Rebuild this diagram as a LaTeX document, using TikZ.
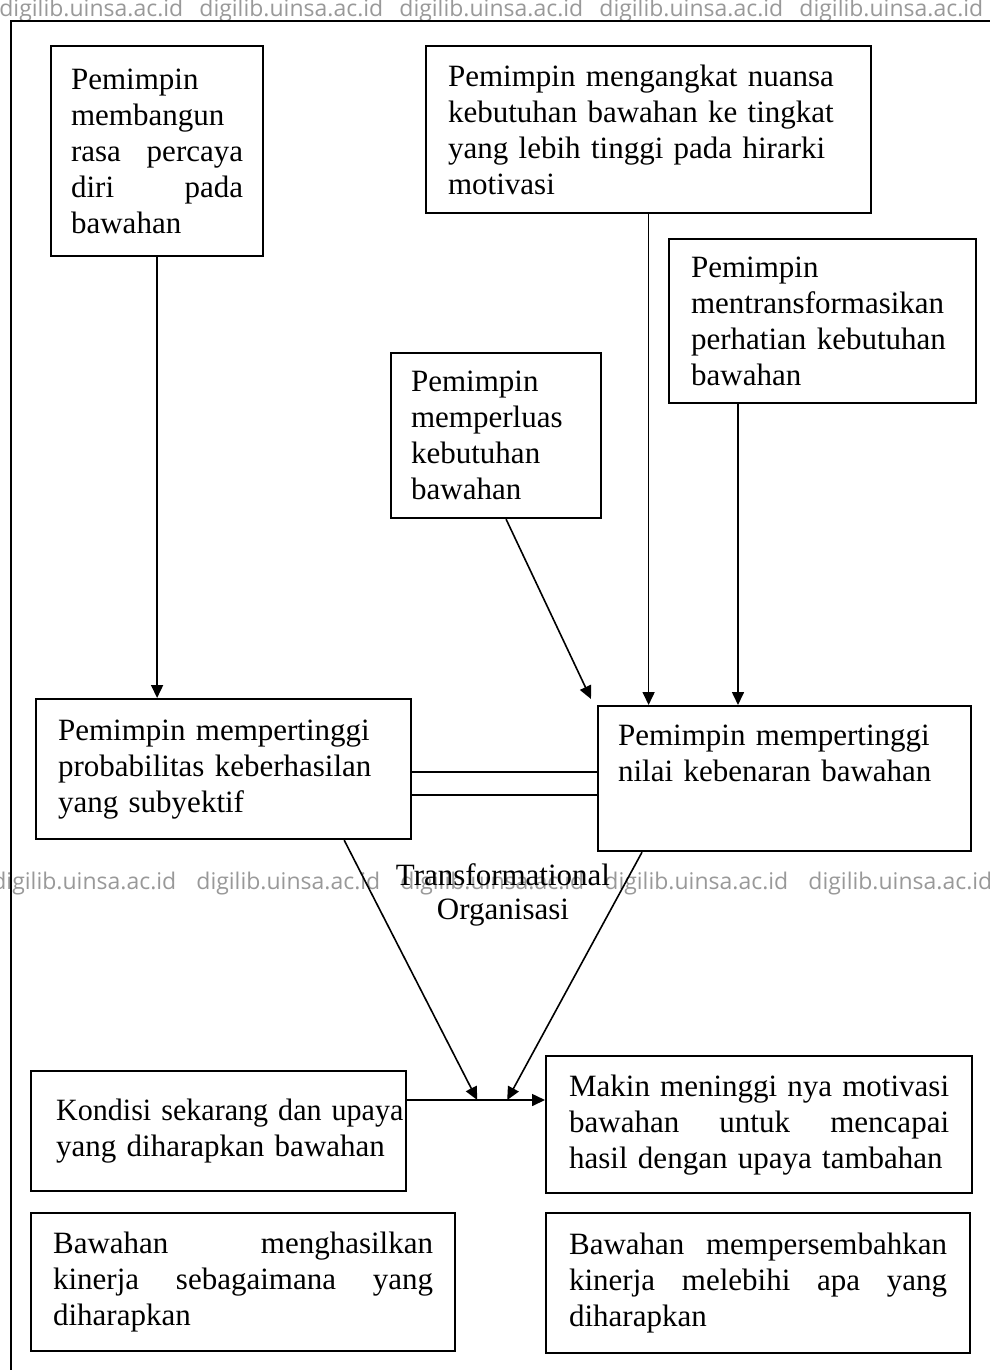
\documentclass[tikz,border=0pt]{standalone}
\usepackage{fontspec}
\usepackage{graphicx}
\setmainfont{Liberation Serif}
\newfontfamily\wmfont{Open Sans}
\usetikzlibrary{arrows.meta,calc}
\newcommand\jl[2]{\makebox[#1][s]{\spaceskip=0.25em plus 1fil\relax #2}}
\begin{document}
\begin{tikzpicture}[x=0.5pt,y=-0.5pt,
  box/.style={draw, line width=1.1pt, anchor=north west, align=left,
    font=\fontsize{15.5}{18}\selectfont, inner ysep=0pt, inner xsep=11pt},
  conn/.style={line width=0.8pt},
  arr/.style={conn, -{Triangle[width=6pt,length=6.5pt]}},
  wm/.style={font=\wmfont\fontsize{11.5}{13}\selectfont, text=black!40, anchor=west, inner sep=0pt},
  lbl/.style={font=\fontsize{15.5}{17}\selectfont, align=center, inner sep=0pt}]
\useasboundingbox (0,0) rectangle (990,1370);
\clip (0,0) rectangle (990,1370);
% watermark
\foreach \i in {0,...,4}{
  \node[wm] (wt\i) at ({-1+200*\i},11) {digilib.uinsa.ac.id};
  \node[wm] (wm\i) at ({-8+204*\i},884) {digilib.uinsa.ac.id};
}
% frame
\coordinate (fa) at (11,1372);
\coordinate (fb) at (11,21);
\coordinate (fc) at (992,21);
\draw[line width=1pt] (fa) -- (fb) -- (fc);
% boxes
\node[box, inner xsep=10pt, text width=86pt, minimum height=105pt] (A) at (50,45)
  {Pemimpin\\ membangun\\ \jl{86pt}{rasa percaya}\\ \jl{86pt}{diri pada}\\ bawahan};
\node[box, text width=200.5pt, minimum height=83.5pt] (B) at (425,45)
  {Pemimpin mengangkat nuansa\\ kebutuhan bawahan ke tingkat\\ yang lebih tinggi pada hirarki\\ motivasi};
\node[box, text width=131.5pt, minimum height=82pt] (C) at (668,238)
  {Pemimpin\\ mentransformasikan\\ perhatian kebutuhan\\ bawahan};
\node[box, inner xsep=10pt, text width=85pt, minimum height=82.5pt] (D) at (390,352)
  {Pemimpin\\ memperluas\\ kebutuhan\\ bawahan};
\node[box, text width=165.5pt, minimum height=70pt] (E) at (35,698)
  {Pemimpin mempertinggi\\ probabilitas keberhasilan\\ yang subyektif};
\node[box, inner xsep=10pt, text width=166.5pt, minimum height=72.5pt] (F) at (597,705)
  {Pemimpin mempertinggi\\ nilai kebenaran bawahan\\[7pt] \mbox{}};
\node[box, inner xsep=12.5pt, text width=162.5pt, minimum height=60pt] (G) at (30,1070)
  {\scalebox{0.97}[1]{Kondisi sekarang dan upaya}\\ \mbox{yang diharapkan bawahan}};
\node[box, inner xsep=11.5pt, text width=190pt, minimum height=68.5pt] (H) at (545,1055)
  {\jl{190pt}{Makin meninggi nya motivasi}\\ \jl{190pt}{bawahan untuk mencapai}\\ hasil dengan upaya tambahan};
\node[box, text width=190pt, minimum height=69pt] (I) at (30,1212)
  {\jl{190pt}{Bawahan menghasilkan}\\ \jl{190pt}{kinerja sebagaimana yang}\\ diharapkan};
\node[box, inner xsep=11.5pt, text width=189pt, minimum height=70pt] (J) at (545,1212)
  {\jl{189pt}{Bawahan mempersembahkan}\\ \jl{189pt}{kinerja melebihi apa yang}\\ diharapkan};
\node[lbl] (T) at (503,895) {Transformational\\Organisasi};
% connectors
\draw[arr] (A.south) -- (A.south |- E.north);
\draw[arr] (B.south) -- (B.south |- F.north);
\coordinate (c1) at ($(C.south west)+(70,0)$);
\draw[arr] (c1) -- (c1 |- F.north);
\coordinate (d1) at ($(D.south)+(10,0)$);
\coordinate (d2) at ($(F.north west)+(-6,-6)$);
\draw[arr] (d1) -- (d2);
\coordinate (e1) at ($(E.north east)+(0,74)$);
\coordinate (e2) at ($(E.north east)+(0,97)$);
\draw[conn] (e1) -- (e1 -| F.west);
\draw[conn] (e2) -- (e2 -| F.west);
\coordinate (g1) at ($(G.north east)+(0,30)$);
\draw[arr] (g1) -- (g1 -| H.west);
\coordinate (m1) at ($(g1)+(70,0)$);
\coordinate (m2) at ($(g1)+(100,0)$);
\coordinate (s1) at ($(E.south east)+(-68,0)$);
\coordinate (s2) at ($(F.south west)+(45,0)$);
\draw[arr] (s1) -- (m1);
\draw[arr] (s2) -- (m2);
\end{tikzpicture}
\end{document}
